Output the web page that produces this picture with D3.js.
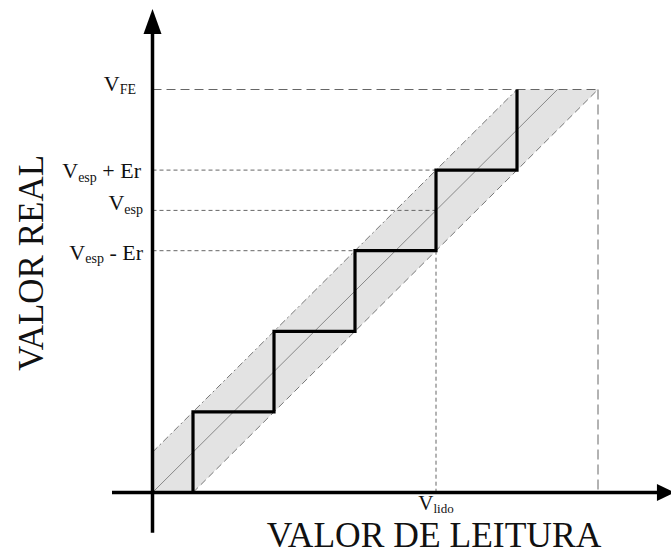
<!DOCTYPE html>
<html>
<head>
<meta charset="utf-8">
<script src="https://cdn.jsdelivr.net/npm/d3@7"></script>
<style>
  html, body { margin: 0; padding: 0; background: #fff; }
  svg { display: block; }
</style>
</head>
<body>
<svg id="chart" width="671" height="555"></svg>
<script>
// ---- data (units: one quantisation step) ----
const stairX = [0.5, 0.5, 1.5, 1.5, 2.5, 2.5, 3.5, 3.5, 4.5, 4.5];
const stairY = [0, 1, 1, 2, 2, 3, 3, 4, 4, 5];
const bandPolyX = [0, 0, 4.5, 5.5, 0.5];
const bandPolyY = [0, 0.5, 5, 5, 0];
const upperEdgeX = [0, 4.5];
const upperEdgeY = [0.5, 5];
const lowerEdgeX = [0.5, 5.5];
const lowerEdgeY = [0, 5];
const idealX = [0, 5];
const idealY = [0, 5];
const yTickValues = [5, 4, 3.5, 3];
const yTickSubs = ["FE", "esp", "esp", "esp"];
const yTickSuffix = ["", " + Er", "", " - Er"];
const yTickEndX = [5.5, 3.5, 3.5, 3.5];
const xTickValue = 3.5;
const xTickSub = "lido";
const fullScaleX = 5.5;
const fullScaleY = 5;
const xTitle = "VALOR DE LEITURA";
const yTitle = "VALOR REAL";

// ---- layout ----
const FONT = "'Liberation Serif', 'Times New Roman', Times, 'DejaVu Serif', serif";
const svg = d3.select("#chart");
const x = d3.scaleLinear().domain([0, 5.5]).range([152.5, 598]);
const y = d3.scaleLinear().domain([0, 5]).range([492.5, 89.5]);
const line = d3.line().x(d => x(d[0])).y(d => y(d[1]));
const zip = (a, b) => a.map((v, i) => [v, b[i]]);

// band
svg.append("path")
  .attr("d", line(zip(bandPolyX, bandPolyY)) + "Z")
  .attr("fill", "#e3e3e3").attr("stroke", "none");
svg.append("path").attr("d", line(zip(upperEdgeX, upperEdgeY)))
  .attr("fill", "none").attr("stroke", "#777").attr("stroke-width", 1)
  .attr("stroke-dasharray", "7,3,2,3");
svg.append("path").attr("d", line(zip(lowerEdgeX, lowerEdgeY)))
  .attr("fill", "none").attr("stroke", "#777").attr("stroke-width", 1)
  .attr("stroke-dasharray", "7,4");
svg.append("path").attr("d", line(zip(idealX, idealY)))
  .attr("fill", "none").attr("stroke", "#888").attr("stroke-width", 1);

// reference dashed lines
yTickValues.forEach((v, i) => {
  const isFE = i === 0;
  svg.append("line")
    .attr("x1", x(0)).attr("x2", x(yTickEndX[i]))
    .attr("y1", y(v)).attr("y2", y(v))
    .attr("stroke", "#666").attr("stroke-width", 1)
    .attr("stroke-dasharray", isFE ? "9,5" : "4,3");
});
svg.append("line")
  .attr("x1", x(xTickValue)).attr("x2", x(xTickValue))
  .attr("y1", y(3)).attr("y2", y(0))
  .attr("stroke", "#666").attr("stroke-width", 1).attr("stroke-dasharray", "4,3");
svg.append("line")
  .attr("x1", x(fullScaleX)).attr("x2", x(fullScaleX))
  .attr("y1", y(fullScaleY)).attr("y2", y(0))
  .attr("stroke", "#666").attr("stroke-width", 1).attr("stroke-dasharray", "10,5");

// staircase
svg.append("path").attr("d", line(zip(stairX, stairY)))
  .attr("fill", "none").attr("stroke", "#000").attr("stroke-width", 3.2)
  .attr("stroke-linejoin", "miter");

// axes
svg.append("line").attr("x1", x(-0.5)).attr("x2", x(6.25))
  .attr("y1", y(0)).attr("y2", y(0)).attr("stroke", "#000").attr("stroke-width", 3.5);
svg.append("line").attr("x1", x(0)).attr("x2", x(0))
  .attr("y1", y(-0.5)).attr("y2", y(5.75)).attr("stroke", "#000").attr("stroke-width", 3.5);
// arrow heads
const xa = x(0), ya = y(0);
svg.append("path").attr("d", `M${x(6.45)},${ya} L${x(6.45)-18},${ya-8.5} L${x(6.45)-18},${ya+8.5} Z`).attr("fill", "#000");
svg.append("path").attr("d", `M${xa},${y(6.0)} L${xa-9},${y(6.0)+25} L${xa+9},${y(6.0)+25} Z`).attr("fill", "#000");

// y tick labels
const labelDy = [1, 8, 0, 9];
const labelX = [136, 141, 143, 143];
yTickValues.forEach((v, i) => {
  const t = svg.append("text")
    .attr("x", labelX[i]).attr("y", y(v) + labelDy[i])
    .attr("text-anchor", "end").attr("font-size", 22)
    .attr("font-family", FONT).attr("fill", "#111");
  t.append("tspan").text("V");
  t.append("tspan").attr("font-size", 14).attr("dy", 3.5).text(yTickSubs[i]);
  if (yTickSuffix[i]) t.append("tspan").attr("dy", -3.5).text(yTickSuffix[i]);
});

// x tick label
const xt = svg.append("text").attr("x", x(xTickValue)).attr("y", 510)
  .attr("text-anchor", "middle").attr("font-size", 21)
  .attr("font-family", FONT).attr("fill", "#111");
xt.append("tspan").text("V");
xt.append("tspan").attr("font-size", 13).attr("dy", 2.5).text(xTickSub);

// titles
svg.append("text").attr("x", 434).attr("y", 547).attr("text-anchor", "middle")
  .attr("font-size", 35.5).attr("font-family", FONT).attr("fill", "#111").text(xTitle);
svg.append("text").attr("transform", "translate(43,263) rotate(-90)")
  .attr("text-anchor", "middle").attr("font-size", 35)
  .attr("font-family", FONT).attr("fill", "#111").text(yTitle);
</script>
</body>
</html>
